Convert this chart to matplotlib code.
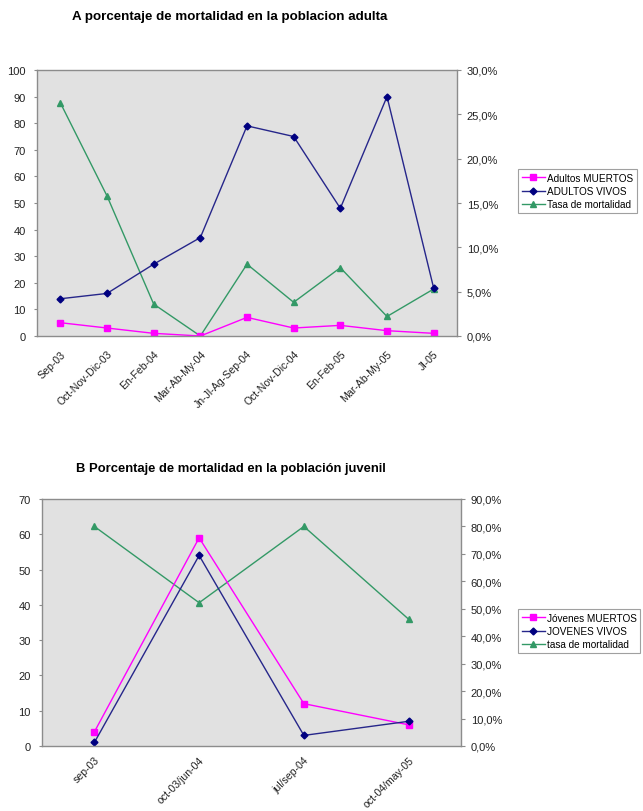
import matplotlib
matplotlib.use("Agg")
import matplotlib.pyplot as plt
from matplotlib.ticker import FuncFormatter, MultipleLocator

plt.rcParams['font.family'] = ['Liberation Sans', 'DejaVu Sans']

# --- Adult population ---
adult_periods = ["Sep-03", "Oct-Nov-Dic-03", "En-Feb-04", "Mar-Ab-My-04",
                 "Jn-Jl-Ag-Sep-04", "Oct-Nov-Dic-04", "En-Feb-05",
                 "Mar-Ab-My-05", "Jl-05"]
adult_dead = [5, 3, 1, 0, 7, 3, 4, 2, 1]
adult_alive = [14, 16, 27, 37, 79, 75, 48, 90, 18]
adult_rate = [26.3, 15.8, 3.6, 0.0, 8.1, 3.8, 7.7, 2.2, 5.3]  # percent

# --- Juvenile population ---
juv_periods = ["sep-03", "oct-03/jun-04", "jul/sep-04", "oct-04/may-05"]
juv_dead = [4, 59, 12, 6]
juv_alive = [1, 54, 3, 7]
juv_rate = [80.0, 52.2, 80.0, 46.2]  # percent

PINK = "#FF00FF"
NAVY = "#000080"
NAVY_LINE = "#26268A"
GREEN = "#339966"
BG = "#E1E1E1"
EDGE = "#8C8C8C"
TXT = "#222222"

W, H = 643, 812
fig = plt.figure(figsize=(W / 100, H / 100), dpi=100)


def px_axes(x0, y0, x1, y1):
    return fig.add_axes([x0 / W, 1 - y1 / H, (x1 - x0) / W, (y1 - y0) / H])


def pct_fmt(v, _):
    return f"{v:.1f}%".replace(".", ",")


def style_axes(ax, ax2, xpad):
    for s in ax.spines.values():
        s.set_color(EDGE)
        s.set_linewidth(1.0)
        s.set_zorder(5)
    for s in ax2.spines.values():
        s.set_visible(False)
    ax.tick_params(axis='y', labelsize=8, length=2, color=EDGE, pad=6,
                   labelcolor=TXT)
    ax.tick_params(axis='x', labelsize=7.6, length=0, pad=xpad,
                   labelcolor=TXT)
    ax2.tick_params(axis='y', labelsize=8, length=3, color=EDGE, pad=4,
                    labelcolor=TXT)


def draw_panel(ax, periods, dead, alive, rate, labels, ymax, ystep,
               rmax, rstep, xpad):
    x = list(range(len(periods)))
    ax2 = ax.twinx()
    # primary axes sit above the secondary one; background painted on ax2
    ax.set_zorder(ax2.get_zorder() + 1)
    ax.patch.set_visible(False)
    ax2.patch.set_visible(True)
    ax2.set_facecolor(BG)

    l1, = ax.plot(x, dead, color=PINK, marker='s', markersize=4,
                  linewidth=1.0, label=labels[0])
    l2, = ax.plot(x, alive, color=NAVY_LINE, marker='D', markersize=3.5,
                  markerfacecolor=NAVY, markeredgecolor=NAVY,
                  linewidth=1.0, label=labels[1])
    l3, = ax2.plot(x, rate, color=GREEN, marker='^', markersize=4,
                   linewidth=1.0, label=labels[2])

    ax.set_xlim(-0.5, len(periods) - 0.5)
    ax.set_ylim(0, ymax)
    ax.yaxis.set_major_locator(MultipleLocator(ystep))
    ax2.set_ylim(0, rmax)
    ax2.yaxis.set_major_locator(MultipleLocator(rstep))
    ax2.yaxis.set_major_formatter(FuncFormatter(pct_fmt))
    ax.set_xticks(x)
    ax.set_xticklabels(periods, rotation=45, ha='right',
                       rotation_mode='anchor')
    style_axes(ax, ax2, xpad)
    return [l1, l2, l3]


# Panel A
axA = px_axes(37, 71, 457, 337)
hA = draw_panel(axA, adult_periods, adult_dead, adult_alive, adult_rate,
                ["Adultos MUERTOS", "ADULTOS VIVOS", "Tasa de mortalidad"],
                100, 10, 30, 5, xpad=9)
fig.text(72 / W, 1 - 17 / H,
         "A porcentaje de mortalidad en la poblacion adulta",
         fontsize=9.6, fontweight='bold', ha='left', va='center')

# Panel B
axB = px_axes(42, 500, 461, 747)
hB = draw_panel(axB, juv_periods, juv_dead, juv_alive, juv_rate,
                ["Jóvenes MUERTOS", "JOVENES VIVOS", "tasa de mortalidad"],
                70, 10, 90, 10, xpad=6)
fig.text(76 / W, 1 - 469 / H,
         "B Porcentaje de mortalidad en la población juvenil",
         fontsize=9.4, fontweight='bold', ha='left', va='center')

legend_kw = dict(loc='upper left', fontsize=7.2, frameon=True, fancybox=False,
                 edgecolor="#A0A0A0", facecolor='white', framealpha=1.0,
                 handlelength=2.3, handletextpad=0.25, labelspacing=0.35,
                 borderpad=0.35, borderaxespad=0)
legA = fig.legend(handles=hA, bbox_to_anchor=(518 / W, 1 - 170 / H),
                  **legend_kw)
legA.get_frame().set_linewidth(0.8)
legB = fig.legend(handles=hB, bbox_to_anchor=(518 / W, 1 - 610 / H),
                  **legend_kw)
legB.get_frame().set_linewidth(0.8)

fig.savefig("out.png", dpi=100)
